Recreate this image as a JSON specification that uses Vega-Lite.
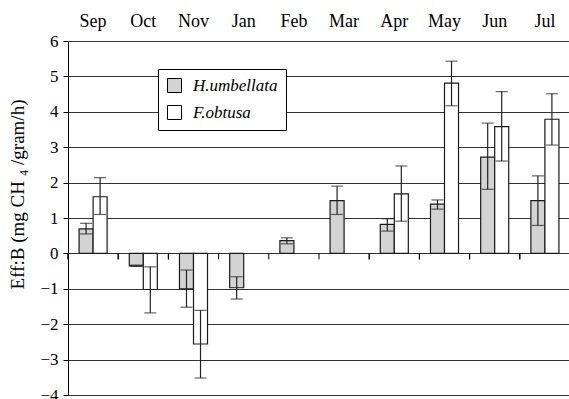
{
  "$schema": "https://vega.github.io/schema/vega-lite/v6.json",
  "autosize": {"type": "none"},
  "padding": {"left": 68, "top": 41, "right": 0, "bottom": 4},
  "width": 502,
  "height": 354,
  "config": {
    "view": {"stroke": null},
    "font": "Liberation Serif",
    "axisY": {
      "values": [-4, -3, -2, -1, 0, 1, 2, 3, 4, 5, 6],
      "labelOverlap": false,
      "grid": true,
      "gridColor": "#333333",
      "gridOpacity": 1,
      "domainColor": "black",
      "tickColor": "black",
      "tickSize": 5,
      "labelPadding": 5,
      "labelFont": "Liberation Serif",
      "labelFontSize": 17,
      "labelColor": "black",
      "titleFont": "Liberation Serif",
      "titleFontSize": 19,
      "titleFontWeight": "normal",
      "titleColor": "black",
      "titlePadding": 12,
      "titleY": 153
    },
    "legend": {
      "orient": "none",
      "legendX": 90,
      "legendY": 28,
      "fillColor": "white",
      "strokeColor": "black",
      "padding": 8,
      "symbolType": "square",
      "symbolSize": 196,
      "symbolStrokeColor": "black",
      "symbolStrokeWidth": 1,
      "labelFont": "Liberation Serif",
      "labelFontStyle": "italic",
      "labelFontSize": 17,
      "labelColor": "black",
      "labelOffset": 10,
      "rowPadding": 8
    }
  },
  "data": {
    "values": [
      {"month": "Sep", "species": "H.umbellata", "value": 0.69, "lo": 0.55, "hi": 0.85},
      {"month": "Sep", "species": "F.obtusa", "value": 1.60, "lo": 1.10, "hi": 2.14},
      {"month": "Oct", "species": "H.umbellata", "value": -0.35, "lo": -0.37, "hi": -0.33},
      {"month": "Oct", "species": "F.obtusa", "value": -1.02, "lo": -1.68, "hi": -0.38},
      {"month": "Nov", "species": "H.umbellata", "value": -1.00, "lo": -1.52, "hi": -0.47},
      {"month": "Nov", "species": "F.obtusa", "value": -2.56, "lo": -3.52, "hi": -1.61},
      {"month": "Jan", "species": "H.umbellata", "value": -0.97, "lo": -1.29, "hi": -0.66},
      {"month": "Feb", "species": "H.umbellata", "value": 0.36, "lo": 0.27, "hi": 0.44},
      {"month": "Mar", "species": "H.umbellata", "value": 1.49, "lo": 1.10, "hi": 1.90},
      {"month": "Apr", "species": "H.umbellata", "value": 0.82, "lo": 0.63, "hi": 0.98},
      {"month": "Apr", "species": "F.obtusa", "value": 1.68, "lo": 0.91, "hi": 2.47},
      {"month": "May", "species": "H.umbellata", "value": 1.39, "lo": 1.25, "hi": 1.51},
      {"month": "May", "species": "F.obtusa", "value": 4.81, "lo": 4.17, "hi": 5.43},
      {"month": "Jun", "species": "H.umbellata", "value": 2.72, "lo": 1.81, "hi": 3.68},
      {"month": "Jun", "species": "F.obtusa", "value": 3.58, "lo": 2.61, "hi": 4.57},
      {"month": "Jul", "species": "H.umbellata", "value": 1.49, "lo": 0.79, "hi": 2.19},
      {"month": "Jul", "species": "F.obtusa", "value": 3.79, "lo": 3.06, "hi": 4.51}
    ]
  },
  "encoding": {
    "x": {
      "field": "month",
      "type": "nominal",
      "sort": ["Sep", "Oct", "Nov", "Jan", "Feb", "Mar", "Apr", "May", "Jun", "Jul"],
      "scale": {"paddingInner": 0, "paddingOuter": 0},
      "axis": {
        "orient": "top",
        "title": null,
        "domain": false,
        "ticks": false,
        "labelAngle": 0,
        "labelFont": "Liberation Serif",
        "labelFontSize": 18,
        "labelColor": "black",
        "labelBaseline": "alphabetic",
        "labelPadding": 15,
        "labelDx": 2
      }
    }
  },
  "layer": [
    {
      "mark": {"type": "bar", "stroke": "#1a1a1a", "strokeWidth": 1.2},
      "encoding": {
        "xOffset": {
          "field": "species",
          "sort": ["H.umbellata", "F.obtusa"],
          "scale": {"paddingInner": 0, "paddingOuter": 0.79}
        },
        "y": {
          "field": "value",
          "type": "quantitative",
          "scale": {"domain": [-4, 6], "nice": false},
          "axis": {"title": "Eff:B (mg CH ₄ /gram/h)"}
        },
        "color": {
          "field": "species",
          "type": "nominal",
          "scale": {"domain": ["H.umbellata", "F.obtusa"], "range": ["#d3d3d3", "#ffffff"]},
          "legend": {"title": null}
        }
      }
    },
    {
      "mark": {"type": "rule", "color": "#222222", "strokeWidth": 1.2},
      "encoding": {
        "xOffset": {
          "field": "species",
          "sort": ["H.umbellata", "F.obtusa"],
          "scale": {"paddingInner": 0, "paddingOuter": 0.79}
        },
        "y": {"field": "lo", "type": "quantitative", "axis": {"title": "Eff:B (mg CH ₄ /gram/h)"}},
        "y2": {"field": "hi"}
      }
    },
    {
      "mark": {"type": "tick", "color": "#222222", "size": 12, "thickness": 1.2},
      "encoding": {
        "xOffset": {
          "field": "species",
          "sort": ["H.umbellata", "F.obtusa"],
          "scale": {"paddingInner": 0, "paddingOuter": 0.79}
        },
        "y": {"field": "lo", "type": "quantitative", "axis": {"title": "Eff:B (mg CH ₄ /gram/h)"}}
      }
    },
    {
      "mark": {"type": "tick", "color": "#222222", "size": 12, "thickness": 1.2},
      "encoding": {
        "xOffset": {
          "field": "species",
          "sort": ["H.umbellata", "F.obtusa"],
          "scale": {"paddingInner": 0, "paddingOuter": 0.79}
        },
        "y": {"field": "hi", "type": "quantitative", "axis": {"title": "Eff:B (mg CH ₄ /gram/h)"}}
      }
    },
    {
      "mark": {"type": "rule", "color": "black", "strokeWidth": 1},
      "encoding": {
        "x": {
          "field": "month",
          "type": "nominal",
          "sort": ["Sep", "Oct", "Nov", "Jan", "Feb", "Mar", "Apr", "May", "Jun", "Jul"],
          "bandPosition": 0
        },
        "y": {"datum": 0, "type": "quantitative", "axis": {"title": "Eff:B (mg CH ₄ /gram/h)"}},
        "y2": {"datum": -0.17}
      }
    }
  ]
}
